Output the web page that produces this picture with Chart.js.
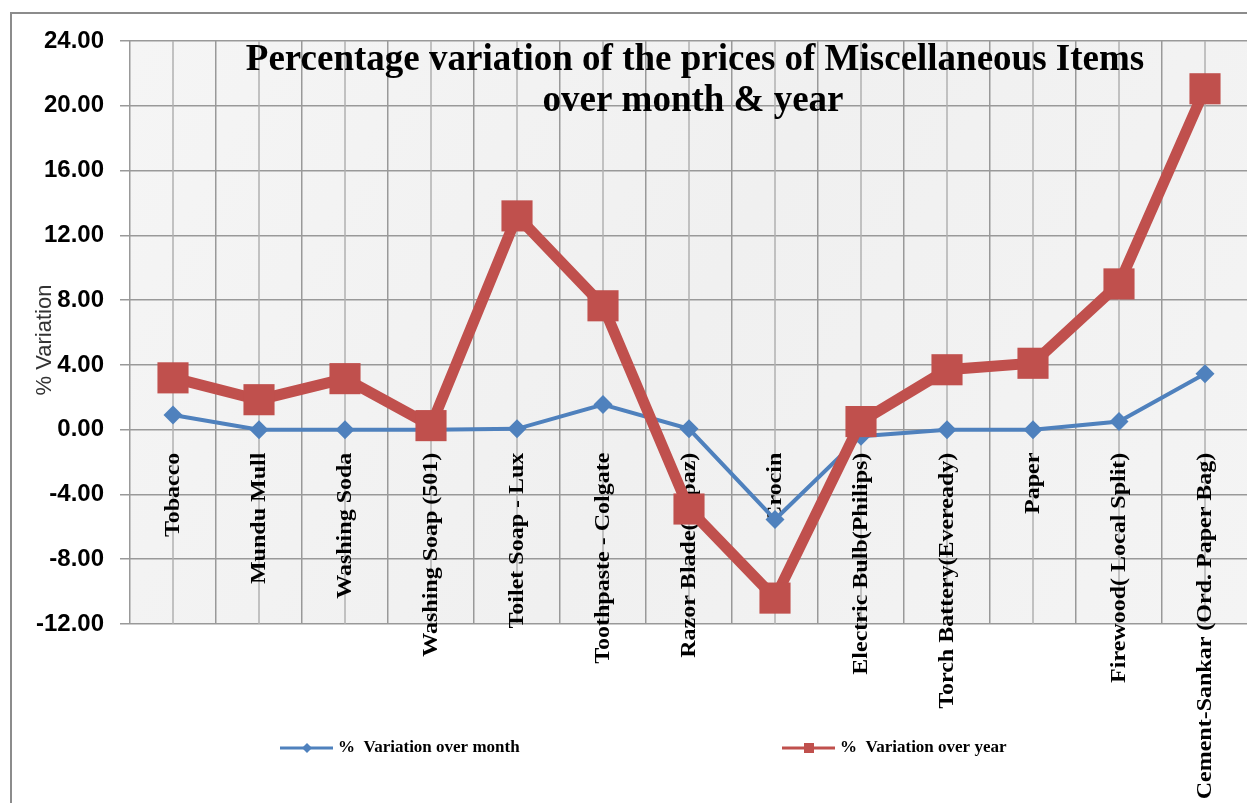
<!DOCTYPE html>
<html>
<head>
<meta charset="utf-8">
<script src="https://cdn.jsdelivr.net/npm/chart.js@4/dist/chart.umd.min.js"></script>
<style>
  html, body { margin: 0; padding: 0; background: #fff; overflow: hidden; }
  canvas { display: block; }
</style>
</head>
<body>
<canvas id="myChart" width="1262" height="803"></canvas>
<script>
'use strict';
const categories = ['Tobacco', 'Mundu Mull', 'Washing Soda', 'Washing Soap (501)', 'Toilet Soap - Lux',
    'Toothpaste - Colgate', 'Razor Blade(Topaz)', 'Crocin', 'Electric Bulb(Philips)',
    'Torch Battery(Eveready)', 'Paper', 'Firewood( Local Split)', 'Cement-Sankar (Ord. Paper Bag)'];
const monthVar = [0.9, 0.0, 0.0, 0.0, 0.05, 1.55, 0.05, -5.55, -0.4, 0.0, 0.0, 0.5, 3.45];
const yearVar = [3.2, 1.85, 3.15, 0.25, 13.2, 7.65, -4.9, -10.4, 0.5, 3.7, 4.1, 9.0, 21.05];
const titleLines = ['Percentage variation of the prices of Miscellaneous Items', 'over month & year'];
const seriesNames = ['%  Variation over month', '%  Variation over year'];

const BLUE = '#4F81BD';
const RED = '#C0504D';

// fondo, marco, lineas centrales, titulo y etiquetas
const decor = {
    id: 'decor',
    beforeDraw(chart) {
        const ctx = chart.ctx;
        const a = chart.chartArea;
        ctx.save();
        ctx.fillStyle = '#fff';
        ctx.fillRect(0, 0, chart.width, chart.height);
        const g = ctx.createLinearGradient(a.left, a.top, a.right, a.bottom);
        g.addColorStop(0, '#f5f5f5');
        g.addColorStop(0.5, '#f0f0f0');
        g.addColorStop(1, '#f4f4f4');
        ctx.fillStyle = g;
        ctx.fillRect(a.left, a.top, a.right - a.left, a.bottom - a.top);
        ctx.strokeStyle = '#8c8c8c';
        ctx.lineWidth = 2;
        ctx.strokeRect(11, 13, 1270, 820);
        ctx.restore();
    },
    beforeDatasetsDraw(chart) {
        const ctx = chart.ctx;
        const a = chart.chartArea;
        const x = chart.scales.x;
        const y = chart.scales.y;
        ctx.save();
        // lineas en el centro de cada categoria
        ctx.strokeStyle = '#b0b0b0';
        ctx.lineWidth = 1.5;
        categories.forEach(function (c, i) {
            const px = x.getPixelForValue(i);
            ctx.beginPath();
            ctx.moveTo(px, a.top);
            ctx.lineTo(px, a.bottom);
            ctx.stroke();
        });
        // titulo
        ctx.fillStyle = '#000';
        ctx.textAlign = 'center';
        ctx.textBaseline = 'alphabetic';
        ctx.font = 'bold 37px "Liberation Serif", "Times New Roman", serif';
        ctx.fillText(titleLines[0], 695, 70);
        ctx.fillText(titleLines[1], 693, 111);
        // etiquetas de categoria, verticales desde la linea cero
        const y0 = y.getPixelForValue(0) + 23;
        ctx.font = 'bold 20px "Liberation Serif", "Times New Roman", serif';
        ctx.textAlign = 'right';
        ctx.textBaseline = 'middle';
        categories.forEach(function (c, i) {
            ctx.save();
            ctx.translate(x.getPixelForValue(i) + 1, y0);
            ctx.rotate(-Math.PI / 2);
            ctx.scale(1.2, 1);
            ctx.fillText(c, 0, 0);
            ctx.restore();
        });
        // titulo del eje y
        ctx.save();
        ctx.translate(45, 340);
        ctx.rotate(-Math.PI / 2);
        ctx.textAlign = 'center';
        ctx.textBaseline = 'middle';
        ctx.fillStyle = '#333';
        ctx.font = '22px "Liberation Sans", Arial, sans-serif';
        ctx.fillText('% Variation', 0, 0);
        ctx.restore();
        ctx.restore();
    },
    afterDraw(chart) {
        const ctx = chart.ctx;
        const ly = 748;
        ctx.save();
        ctx.font = 'bold 17px "Liberation Serif", "Times New Roman", serif';
        ctx.textAlign = 'left';
        ctx.textBaseline = 'middle';
        // serie mensual
        ctx.strokeStyle = BLUE;
        ctx.lineWidth = 3;
        ctx.beginPath(); ctx.moveTo(280, ly); ctx.lineTo(333, ly); ctx.stroke();
        ctx.fillStyle = BLUE;
        ctx.beginPath();
        ctx.moveTo(307, ly - 5); ctx.lineTo(312, ly); ctx.lineTo(307, ly + 5); ctx.lineTo(302, ly);
        ctx.closePath(); ctx.fill();
        ctx.fillStyle = '#000';
        ctx.fillText(seriesNames[0], 338, ly);
        // serie anual
        ctx.strokeStyle = RED;
        ctx.beginPath(); ctx.moveTo(782, ly); ctx.lineTo(835, ly); ctx.stroke();
        ctx.fillStyle = RED;
        ctx.fillRect(804, ly - 5, 10, 10);
        ctx.fillStyle = '#000';
        ctx.fillText(seriesNames[1], 840, ly);
        ctx.restore();
    }
};

const ctx = document.getElementById('myChart').getContext('2d');
new Chart(ctx, {
    type: 'line',
    data: {
        labels: categories,
        datasets: [
            {
                label: seriesNames[0],
                data: monthVar,
                borderColor: BLUE,
                backgroundColor: BLUE,
                borderWidth: 4,
                pointStyle: 'rectRot',
                pointRadius: 9.5,
                pointBorderWidth: 0,
                fill: false,
                order: 2
            },
            {
                label: seriesNames[1],
                data: yearVar,
                borderColor: RED,
                backgroundColor: RED,
                borderWidth: 11,
                pointStyle: 'rect',
                pointRadius: 22,
                pointBorderWidth: 0,
                fill: false,
                order: 1
            }
        ]
    },
    options: {
        responsive: false,
        animation: false,
        layout: { autoPadding: false, padding: { top: 41, right: 14, left: 0, bottom: 0 } },
        plugins: {
            legend: { display: false },
            tooltip: { enabled: false }
        },
        scales: {
            x: {
                type: 'category',
                offset: true,
                grid: { offset: true, color: '#999', lineWidth: 1.5, drawTicks: false },
                border: { display: false },
                ticks: { display: false },
                afterFit: function (s) { s.height = 179; }
            },
            y: {
                min: -12,
                max: 24,
                ticks: {
                    stepSize: 4,
                    padding: 16,
                    color: '#000',
                    font: { family: '"Liberation Sans", Arial, sans-serif', size: 24, weight: 'bold' },
                    callback: function (v) { return v.toFixed(2); }
                },
                grid: { color: '#999', lineWidth: 1.5, tickLength: 10 },
                border: { display: false },
                afterFit: function (s) { s.width = 130; }
            }
        }
    },
    plugins: [decor]
});
</script>
</body>
</html>
